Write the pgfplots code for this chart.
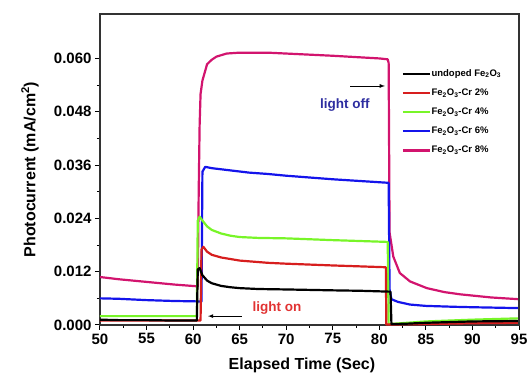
\documentclass[border=0pt]{standalone}
\usepackage{pgfplots}
\pgfplotsset{compat=1.18}
\usepackage{fontspec}
\setmainfont{Liberation Sans}
\definecolor{cblack}{RGB}{0,0,0}
\definecolor{cred}{RGB}{215,30,30}
\definecolor{cgreen}{RGB}{120,245,40}
\definecolor{cblue}{RGB}{20,20,235}
\definecolor{cmag}{RGB}{210,20,110}
\definecolor{offblue}{RGB}{45,45,160}
\definecolor{onred}{RGB}{225,50,50}
\begin{document}
\begin{tikzpicture}
\path[use as bounding box] (-100pt,-54pt) rectangle (427pt,325pt);
\begin{axis}[
  name=main,
  scale only axis, width=419pt, height=311pt,
  xmin=50, xmax=95, ymin=0, ymax=0.070,
  clip=false,
  xtick={50,55,...,95}, minor x tick num=1,
  ytick={0,0.012,0.024,0.036,0.048,0.060}, minor y tick num=1,
  scaled y ticks=false,
  yticklabel style={/pgf/number format/.cd, fixed, fixed zerofill, precision=3},
  /pgf/number format/assume math mode=true,
  tick label style={font=\fontsize{15}{17}\selectfont\bfseries},
  tick align=outside, xtick pos=left, ytick pos=left,
  major tick length=5pt, minor tick length=3pt,
  axis line style={line width=1.5pt, draw=black!80}, tick style={line width=1pt, black},
  xlabel={Elapsed Time (Sec)},
  ylabel={Photocurrent (mA/cm\textsuperscript{2})},
  label style={font=\fontsize{16}{18}\selectfont\bfseries},
  xlabel style={at={(axis description cs:0.482,-0.129)}, anchor=center},
  ylabel style={at={(axis description cs:-0.167,0.5)}, anchor=center},
  legend style={draw=none, fill=none, at={(rel axis cs:0.72,0.83)}, anchor=north west,
    font=\fontsize{9.5}{11}\selectfont\bfseries, row sep=10pt, inner xsep=0pt,
    nodes={inner sep=0.5pt}},
  legend cell align=left,
  reverse legend,
  legend image code/.code={\draw[#1, line width=2.2pt] (0pt,0pt) -- (27pt,0pt);},
  every axis plot/.append style={line width=2.2pt, line join=round},
]
\addplot[cmag] coordinates {(50,0.0108)(52,0.0103)(55,0.0097)(58,0.0091)(60.5,0.0087)(60.6,0.030)(60.7,0.045)(60.8,0.052)(61,0.055)(61.5,0.0587)(62,0.0597)(62.5,0.0604)(63.6,0.0611)(65,0.0613)(68,0.0613)(75,0.0606)(80,0.0600)(80.9,0.0598)(81.0,0.0590)(81.1,0.0208)(81.5,0.0154)(82.2,0.0117)(83.3,0.0098)(85.1,0.0083)(87,0.0074)(88.7,0.0069)(92,0.0062)(95,0.0058)};
\addlegendentry{Fe\textsubscript{2}O\textsubscript{3}-Cr 8\%}
\addplot[cblue] coordinates {(50,0.0060)(52,0.0059)(55,0.0056)(58,0.0054)(60.9,0.0053)(61.0,0.0345)(61.3,0.0356)(62,0.0353)(64,0.0348)(66,0.0343)(68,0.0340)(70,0.0336)(75,0.0328)(81.0,0.0320)(81.1,0.0080)(81.3,0.0058)(82,0.0052)(83.3,0.0046)(85,0.0043)(88,0.0041)(90,0.0040)(95,0.0038)};
\addlegendentry{Fe\textsubscript{2}O\textsubscript{3}-Cr 6\%}
\addplot[cgreen] coordinates {(50,0.0020)(60.4,0.0020)(60.5,0.0235)(60.7,0.0244)(61,0.0235)(61.5,0.0222)(62,0.0214)(63,0.0206)(64,0.0201)(65,0.0198)(67,0.0196)(70,0.0195)(75,0.0191)(80.9,0.0187)(81.0,0.0002)(83,0.0005)(85,0.0008)(90,0.0012)(95,0.0015)};
\addlegendentry{Fe\textsubscript{2}O\textsubscript{3}-Cr 4\%}
\addplot[cred] coordinates {(50,0.0010)(60.8,0.0010)(60.9,0.0170)(61.1,0.0176)(61.5,0.0165)(62,0.0158)(63,0.0152)(65,0.0145)(68,0.0140)(70,0.0138)(75,0.0134)(80.7,0.0130)(80.75,0.0001)(85,0.0002)(90,0.0004)(95,0.0005)};
\addlegendentry{Fe\textsubscript{2}O\textsubscript{3}-Cr 2\%}
\addplot[cblack] coordinates {(50,0.0012)(52,0.0011)(55,0.0011)(58,0.0010)(60.4,0.0010)(60.5,0.0125)(60.7,0.0128)(61,0.0112)(61.5,0.0100)(62,0.0094)(63,0.0088)(64,0.0085)(65,0.0083)(67,0.0081)(70,0.0080)(75,0.0078)(78,0.0077)(81.2,0.0075)(81.3,0.0002)(83,0.0003)(85,0.0005)(90,0.0008)(95,0.0009)};
\addlegendentry{undoped Fe\textsubscript{2}O\textsubscript{3}}
\draw[-latex, line width=0.8pt] (axis cs:76.85,0.0538) -- (axis cs:80.6,0.0538);
\node[font=\fontsize{13.5}{15}\selectfont\bfseries, text=offblue] at (axis cs:76.3,0.0495) {light off};
\draw[-latex, line width=0.8pt] (axis cs:65.2,0.0020) -- (axis cs:61.6,0.0020);
\node[font=\fontsize{13.5}{15}\selectfont\bfseries, text=onred] at (axis cs:69.0,0.0038) {light on};
\end{axis}
\draw[line width=1.5pt, black!80] (0pt,311pt) -- (419pt,311pt) -- (419pt,0pt);
\end{tikzpicture}
\end{document}
